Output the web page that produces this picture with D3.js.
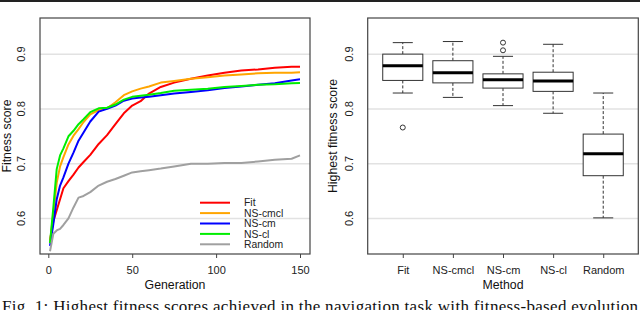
<!DOCTYPE html>
<html><head><meta charset="utf-8">
<script src="https://cdn.jsdelivr.net/npm/d3@7"></script>
<style>body{margin:0;background:#fff}svg{display:block}</style>
</head><body>
<svg id="c" width="640" height="310"></svg>
<script>
// ---- data ----
const generations = [1,3,5,7,9,12,15,18,21,25,30,35,40,45,50,55,60,67,75,85,95,105,115,125,135,145,150];
const fitSeries    = [0.560,0.595,0.615,0.635,0.655,0.668,0.680,0.693,0.703,0.716,0.736,0.752,0.772,0.792,0.806,0.814,0.828,0.840,0.848,0.855,0.861,0.866,0.870,0.872,0.875,0.877,0.877];
const nsCmclSeries = [0.555,0.610,0.665,0.695,0.712,0.735,0.751,0.763,0.776,0.790,0.798,0.801,0.812,0.825,0.832,0.837,0.841,0.848,0.851,0.855,0.858,0.861,0.863,0.865,0.866,0.866,0.867];
const nsCmSeries   = [0.550,0.590,0.635,0.660,0.675,0.700,0.720,0.742,0.757,0.777,0.795,0.800,0.806,0.815,0.819,0.821,0.822,0.825,0.828,0.831,0.834,0.838,0.841,0.844,0.847,0.852,0.854];
const nsClSeries   = [0.555,0.620,0.690,0.715,0.728,0.750,0.760,0.772,0.781,0.794,0.801,0.802,0.808,0.817,0.822,0.824,0.826,0.829,0.833,0.835,0.837,0.840,0.842,0.844,0.845,0.847,0.8475];
const randomSeries = [0.540,0.572,0.578,0.581,0.588,0.600,0.620,0.638,0.641,0.648,0.660,0.667,0.672,0.678,0.684,0.686,0.688,0.691,0.695,0.700,0.700,0.701,0.701,0.704,0.707,0.709,0.715];
const seriesNames  = ["Fit","NS-cmcl","NS-cm","NS-cl","Random"];
const seriesColors = ["#ff0000","#ffa500","#0000ff","#00ee00","#a0a0a0"];
const xTicks = [0,50,100,150];
const yTicks = [0.6,0.7,0.8,0.9];

const methods     = ["Fit","NS-cmcl","NS-cm","NS-cl","Random"];
const whiskerLow  = [0.829,0.821,0.806,0.792,0.601];
const q1          = [0.852,0.8475,0.838,0.832,0.678];
const medians     = [0.879,0.866,0.853,0.851,0.718];
const q3          = [0.900,0.888,0.864,0.867,0.754];
const whiskerHigh = [0.921,0.923,0.896,0.918,0.829];
const outliers    = [[0.766],[],[0.907,0.921],[],[]];

// ---- drawing ----
(function(){
const svg = d3.select("#c");
const font = "Liberation Sans, Arial, Helvetica, sans-serif";
const pTop = 18, pBottom = 254;
const y = d3.scaleLinear().domain([0.535,0.966]).range([pBottom, pTop]);

// top rule
svg.append("line").attr("x1",0).attr("x2",640).attr("y1",1).attr("y2",1).attr("stroke","#222").attr("stroke-width",2);

function frame(x0, x1, yLabel, xLabel, yLabelX, yTickX) {
  const g = svg.append("g");
  g.selectAll("line.grid").data(yTicks).enter().append("line")
    .attr("x1",x0).attr("x2",x1).attr("y1",d=>y(d)).attr("y2",d=>y(d))
    .attr("stroke","#e2e2e2").attr("stroke-width",1.5);
  g.selectAll("text.yt").data(yTicks).enter().append("text")
    .attr("transform",d=>`translate(${yTickX},${y(d)}) rotate(-90)`)
    .attr("text-anchor","middle").attr("font-family",font).attr("font-size",11).attr("fill","#222")
    .text(d=>d.toFixed(1));
  g.append("text").attr("transform",`translate(${yLabelX},${(pTop+pBottom)/2}) rotate(-90)`)
    .attr("text-anchor","middle").attr("font-family",font).attr("font-size",12.3).attr("fill","#111").text(yLabel);
  g.append("text").attr("x",(x0+x1)/2).attr("y",289)
    .attr("text-anchor","middle").attr("font-family",font).attr("font-size",12.3).attr("fill","#111").text(xLabel);
  return g;
}

// Left panel
const xL = d3.scaleLinear().domain([-4.96,155.96]).range([40,310]);
const gL = frame(40,310,"Fitness score","Generation",10.5,25);
const allSeries = [fitSeries,nsCmclSeries,nsCmSeries,nsClSeries,randomSeries];
const line = d3.line().x((d,i)=>xL(generations[i])).y(d=>y(d));
allSeries.forEach((s,k)=>{
  gL.append("path").attr("d",line(s)).attr("fill","none")
    .attr("stroke",seriesColors[k]).attr("stroke-width",2).attr("stroke-linejoin","round");
});
const xAxisL = d3.axisBottom(xL).tickValues(xTicks).tickSize(4).tickPadding(8);
const axL = gL.append("g").attr("transform",`translate(0,${pBottom})`).call(xAxisL);
axL.select(".domain").remove();
axL.selectAll("line").attr("stroke","#444");
axL.selectAll("text").attr("font-family",font).attr("font-size",11).attr("fill","#222");
gL.append("rect").attr("x",40).attr("y",pTop).attr("width",270).attr("height",pBottom-pTop)
  .attr("fill","none").attr("stroke","#444").attr("stroke-width",1.2);
// legend
seriesNames.forEach((n,k)=>{
  const ly = 202.7 + k*10.4;
  gL.append("line").attr("x1",200).attr("x2",230).attr("y1",ly).attr("y2",ly)
    .attr("stroke",seriesColors[k]).attr("stroke-width",2);
  gL.append("text").attr("x",244).attr("y",ly+3.7).attr("font-family",font).attr("font-size",10.4)
    .attr("fill","#222").text(n);
});

// Right panel
const xR = d3.scaleLinear().domain([0.3,5.7]).range([367.7,638.3]);
const gR = frame(367.7,638.3,"Highest fitness score","Method",337,353);
const unit = xR(1)-xR(0);
const bw = 0.8*unit, cw = 0.4*unit;
methods.forEach((m,i)=>{
  const cx = xR(i+1);
  gR.append("line").attr("x1",cx).attr("x2",cx).attr("y1",y(q3[i])).attr("y2",y(whiskerHigh[i]))
    .attr("stroke","#333").attr("stroke-dasharray","3,2");
  gR.append("line").attr("x1",cx).attr("x2",cx).attr("y1",y(q1[i])).attr("y2",y(whiskerLow[i]))
    .attr("stroke","#333").attr("stroke-dasharray","3,2");
  gR.append("line").attr("x1",cx-cw/2).attr("x2",cx+cw/2).attr("y1",y(whiskerHigh[i])).attr("y2",y(whiskerHigh[i])).attr("stroke","#333");
  gR.append("line").attr("x1",cx-cw/2).attr("x2",cx+cw/2).attr("y1",y(whiskerLow[i])).attr("y2",y(whiskerLow[i])).attr("stroke","#333");
  gR.append("rect").attr("x",cx-bw/2).attr("y",y(q3[i])).attr("width",bw).attr("height",y(q1[i])-y(q3[i]))
    .attr("fill","#fff").attr("stroke","#333").attr("stroke-width",1);
  gR.append("line").attr("x1",cx-bw/2).attr("x2",cx+bw/2).attr("y1",y(medians[i])).attr("y2",y(medians[i]))
    .attr("stroke","#000").attr("stroke-width",3);
  outliers[i].forEach(o=>{
    gR.append("circle").attr("cx",cx).attr("cy",y(o)).attr("r",2.5).attr("fill","none").attr("stroke","#333");
  });
});
const xAxisR = d3.axisBottom(xR).tickValues(methods.map((m,i)=>i+1)).tickFormat((d)=>methods[d-1]).tickSize(4).tickPadding(8);
const axR = gR.append("g").attr("transform",`translate(0,${pBottom})`).call(xAxisR);
axR.select(".domain").remove();
axR.selectAll("line").attr("stroke","#444");
axR.selectAll("text").attr("font-family",font).attr("font-size",11).attr("fill","#222");
gR.append("rect").attr("x",367.7).attr("y",pTop).attr("width",638.3-367.7).attr("height",pBottom-pTop)
  .attr("fill","none").attr("stroke","#444").attr("stroke-width",1.2);

// caption (cut at the bottom edge, as in the reference)
svg.append("text").attr("x",2).attr("y",312).attr("font-family","Liberation Serif, DejaVu Serif, serif")
  .attr("font-size",17).attr("fill","#111").attr("textLength",636).attr("lengthAdjust","spacing")
  .text("Fig. 1: Highest fitness scores achieved in the navigation task with fitness-based evolution");
})();
</script>
</body></html>
